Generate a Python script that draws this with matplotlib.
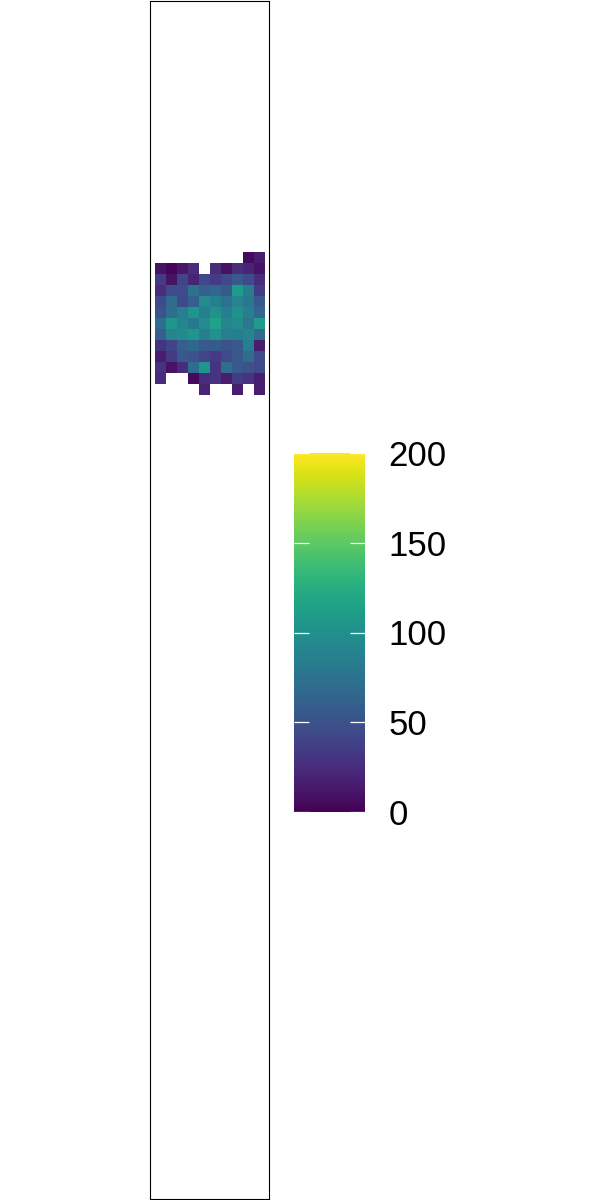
# Heatmap in a tall narrow panel with a viridis colorbar
import numpy as np
import matplotlib.pyplot as plt

plt.rcParams['font.family'] = ['Liberation Sans', 'DejaVu Sans']

# columns 0..9, rows 0..12 from the top; nan = no tile
cols = list(range(10))
rows = list(range(13))
nan = np.nan
values = [
    [nan, nan, nan, nan, nan, nan, nan, nan, 5, 15],
    [10, 3, 12, 25, nan, 25, 8, 25, 20, 10],
    [35, 10, 40, 20, 45, 35, 45, 55, 45, 25],
    [25, 45, 45, 75, 60, 65, 55, 110, 85, 35],
    [45, 70, 45, 60, 95, 85, 75, 90, 80, 55],
    [50, 70, 85, 105, 85, 100, 85, 100, 85, 65],
    [70, 105, 90, 80, 95, 115, 90, 95, 80, 110],
    [60, 90, 95, 105, 85, 100, 85, 85, 90, 70],
    [30, 40, 60, 65, 55, 55, 50, 55, 85, 15],
    [15, 35, 55, 50, 40, 35, 45, 55, 70, 45],
    [30, 10, 25, 70, 105, 30, 70, 55, 50, 45],
    [25, nan, nan, 5, 25, 30, 15, 35, 30, 15],
    [nan, nan, nan, nan, 20, nan, nan, 15, nan, 15],
]
z = np.ma.masked_invalid(np.array(values, dtype=float))
cbar_ticks = [0, 50, 100, 150, 200]

fig = plt.figure(figsize=(6, 12), dpi=100)
ax = fig.add_axes([150/600, 1/1200, 119/600, 1198/1200])

x_edges = np.arange(len(cols) + 1) - 0.5
y_edges = np.arange(len(rows) + 1) - 0.5
mesh = ax.pcolormesh(x_edges, y_edges, z, cmap='viridis', vmin=0, vmax=200)

ax.set_xlim(-0.5 - 5/11, 9.5 + 4/11)
ax.set_ylim(-0.5 + (1199 - 251)/11, -0.5 - 251/11)
ax.set_xticks([])
ax.set_yticks([])
for s in ax.spines.values():
    s.set_linewidth(0.8)
    s.set_color('black')

# colorbar
cax = fig.add_axes([294/600, 1 - 812/1200, 71/600, 359/1200])
cb = fig.colorbar(mesh, cax=cax, ticks=cbar_ticks)
cb.outline.set_visible(False)
cax.tick_params(direction='in', color='white', length=11, width=0.9,
                left=True, right=True, labelsize=25, pad=17)
cax.set_yticklabels([str(t) for t in cbar_ticks])

fig.savefig('out.png', dpi=100)
